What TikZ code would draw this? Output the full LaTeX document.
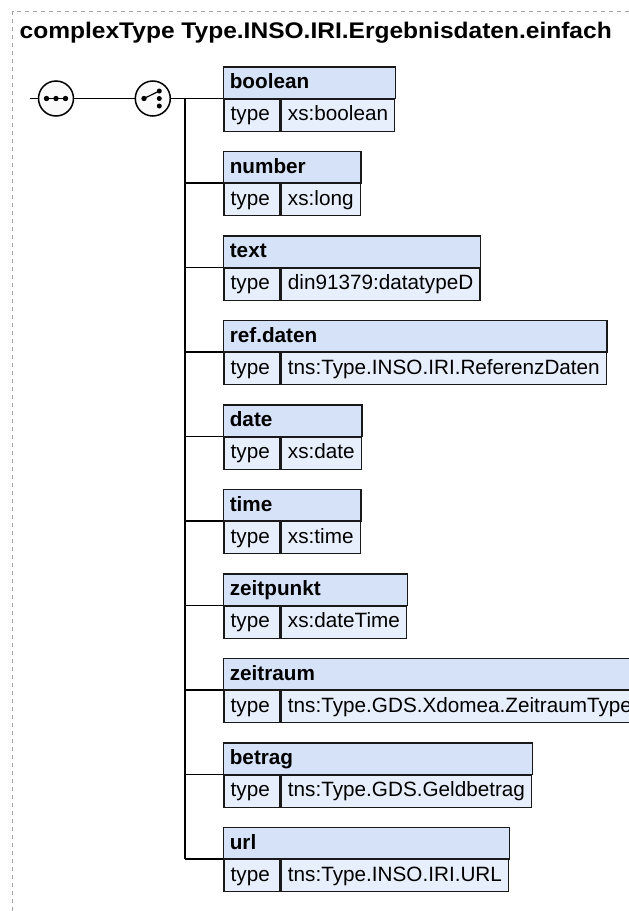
\documentclass[tikz,border=0pt]{standalone}
\usepackage{fontspec}
\setmainfont{Liberation Sans}
\usepackage{graphicx}
\usetikzlibrary{fit}
\definecolor{hdrcol}{RGB}{214,226,248}
\definecolor{rowcol}{RGB}{232,239,252}
\definecolor{edge}{RGB}{25,25,25}
\definecolor{framecol}{RGB}{160,160,160}
\definecolor{iconfill}{RGB}{250,250,250}
\tikzset{
 bodyfont/.style={font=\fontsize{20.7}{24}\selectfont},
 cellbox/.style={draw=edge, line width=1.3pt, fill=rowcol, inner ysep=0pt, minimum height=32pt, text height=15.5pt, text depth=4.5pt, bodyfont},
 typecell/.style={cellbox, inner xsep=6.7pt, text width=42.6pt, align=left},
 valcell/.style={cellbox, inner xsep=6.7pt},
 hdrbox/.style={draw=edge, line width=1.3pt, fill=hdrcol, inner sep=0pt},
 namelabel/.style={inner sep=0pt, anchor=base west, font=\fontsize{20.7}{24}\selectfont\bfseries},
 conn/.style={draw=black, line width=1.2pt},
 icon/.style={circle, draw=black, line width=1.5pt, fill=iconfill, minimum size=35pt, inner sep=0pt},
 dotmark/.style={fill=black},
 framel/.style={draw=framecol, line width=1pt, dash pattern=on 4pt off 4pt},
}
% #1 id, #2 top y, #3 name, #4 type
\newcommand\xelem[4]{%
  \node[typecell, anchor=north west] (#1t) at (223.3,{-#2-31.5}) {type};
  \node[valcell, anchor=north west] (#1v) at (#1t.north east) {#4};
  \coordinate (#1o) at (223.3,{-#2});
  \node[hdrbox, fit=(#1o)(#1v.north east)] (#1h) {};
  \node[namelabel] (#1n) at ([shift={(7,-22.6)}]#1h.north west) {#3};
}
\begin{document}
\begin{tikzpicture}[x=1pt,y=1pt]
\useasboundingbox (0,0) rectangle (629,-911);
\clip (0,0) rectangle (629,-911);
% frame
\coordinate (fr1) at (12.5,-911);
\coordinate (fr2) at (12.5,-11.5);
\coordinate (fr3) at (629,-11.5);
\draw[framel] (fr1) -- (fr2) -- (fr3);
% title
\node[anchor=base west, inner sep=0pt] (title) at (19.5,-38.3)
  {\resizebox{592pt}{\height}{\fontsize{22.6}{26}\selectfont\bfseries complexType Type.INSO.IRI.Ergebnisdaten.einfach}};
% elements
\xelem{e1}{67}{boolean}{xs:boolean}
\xelem{e2}{151.5}{number}{xs:long}
\xelem{e3}{236}{text}{din91379:datatypeD}
\xelem{e4}{320.5}{ref.daten}{tns:Type.INSO.IRI.ReferenzDaten}
\xelem{e5}{405}{date}{xs:date}
\xelem{e6}{489.5}{time}{xs:time}
\xelem{e7}{574}{zeitpunkt}{xs:dateTime}
\xelem{e8}{658.5}{zeitraum}{tns:Type.GDS.Xdomea.ZeitraumType}
\xelem{e9}{743}{betrag}{tns:Type.GDS.Geldbetrag}
\xelem{e10}{827.5}{url}{tns:Type.INSO.IRI.URL}
% icons
\coordinate (in) at (30,-98.5);
\coordinate (barx) at (185,0);
\node[icon] (seq) at (56,-98.5) {};
\node[icon] (choice) at (152.8,-98.5) {};
\draw[conn] (in) -- (seq.west);
\draw[conn] (seq.east) -- (choice.west);
\draw[conn] (choice.east) -- (e1t.north west);
\draw[conn] (e1t.north west -| barx) -- (e10t.north west -| barx);
\foreach \i in {2,...,10}{
  \draw[conn] (e\i t.north west -| barx) -- (e\i t.north west);
}
% sequence icon content
\draw[line width=1.2pt] ([xshift=-11pt]seq.center) -- ([xshift=11pt]seq.center);
\foreach \dx in {-9.5,0,9.5}{
  \fill[dotmark] ([xshift=\dx pt]seq.center) circle (2.7pt);
}
% choice icon content
\draw[line width=1.2pt] ([xshift=-8.8pt]choice.center) -- ([shift={(6.5pt,7.5pt)}]choice.center);
\fill[dotmark] ([xshift=-8.8pt]choice.center) circle (2.7pt);
\foreach \dy in {7.5,0,-7.5}{
  \fill[dotmark] ([shift={(6.5pt,\dy pt)}]choice.center) circle (2.5pt);
}
\end{tikzpicture}
\end{document}
